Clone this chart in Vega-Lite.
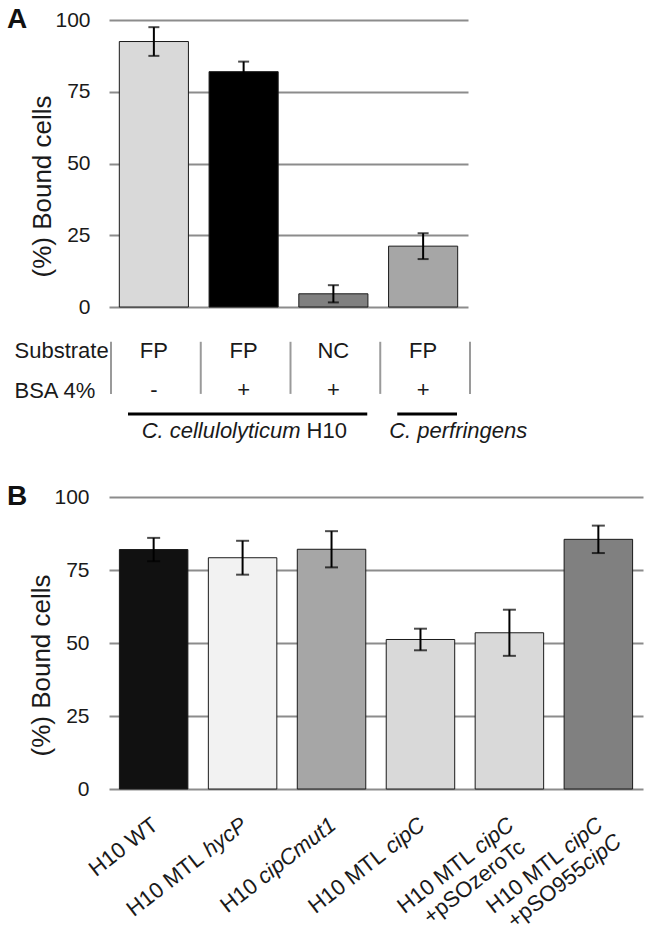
{
  "$schema": "https://vega.github.io/schema/vega-lite/v6.json",
  "background": "white",
  "padding": {"left": 7, "right": 2, "top": 6, "bottom": 0},
  "config": {
    "font": "Liberation Sans",
    "view": {"stroke": null},
    "axis": {"labelFont": "Liberation Sans", "titleFont": "Liberation Sans", "labelColor": "#1a1a1a", "titleColor": "#1a1a1a"},
    "title": {"font": "Liberation Sans"},
    "text": {"font": "Liberation Sans"}
  },
  "resolve": {"scale": {"color": "independent", "x": "independent"}},
  "spacing": 22,
  "datasets": {
    "panelA": [
      {"condition": "FP, BSA- (H10)", "value": 92.5, "err": 5.0},
      {"condition": "FP, BSA+ (H10)", "value": 82.0, "err": 3.5},
      {"condition": "NC, BSA+ (H10)", "value": 4.6, "err": 3.0},
      {"condition": "FP, BSA+ (C. perfringens)", "value": 21.2, "err": 4.5}
    ],
    "tableA": [
      {"condition": "FP, BSA- (H10)", "row": "Substrate", "label": "FP"},
      {"condition": "FP, BSA- (H10)", "row": "BSA 4%", "label": "-"},
      {"condition": "FP, BSA+ (H10)", "row": "Substrate", "label": "FP"},
      {"condition": "FP, BSA+ (H10)", "row": "BSA 4%", "label": "+"},
      {"condition": "NC, BSA+ (H10)", "row": "Substrate", "label": "NC"},
      {"condition": "NC, BSA+ (H10)", "row": "BSA 4%", "label": "+"},
      {"condition": "FP, BSA+ (C. perfringens)", "row": "Substrate", "label": "FP"},
      {"condition": "FP, BSA+ (C. perfringens)", "row": "BSA 4%", "label": "+"}
    ],
    "organisms": [
      {"species": "C. cellulolyticum", "strain": "H10", "first": "FP, BSA- (H10)", "last": "NC, BSA+ (H10)"},
      {"species": "C. perfringens", "strain": "", "first": "FP, BSA+ (C. perfringens)", "last": "FP, BSA+ (C. perfringens)"}
    ],
    "panelB": [
      {"strain": "H10 WT", "value": 82.0, "err": 4.0},
      {"strain": "H10 MTL hycP", "value": 79.2, "err": 5.8},
      {"strain": "H10 cipCmut1", "value": 82.1, "err": 6.2},
      {"strain": "H10 MTL cipC", "value": 51.2, "err": 3.7},
      {"strain": "H10 MTL cipC +pSOzeroTc", "value": 53.5, "err": 7.9},
      {"strain": "H10 MTL cipC +pSO955cipC", "value": 85.5, "err": 4.7}
    ],
    "labelsB": [
      {"strain": "H10 WT", "line": 1, "kind": "text", "text": "H10 WT"},
      {"strain": "H10 MTL hycP", "line": 1, "kind": "text", "text": "H10 MTL"},
      {"strain": "H10 MTL hycP", "line": 1, "kind": "gene", "text": "hycP"},
      {"strain": "H10 cipCmut1", "line": 1, "kind": "text", "text": "H10"},
      {"strain": "H10 cipCmut1", "line": 1, "kind": "gene", "text": "cipCmut1"},
      {"strain": "H10 MTL cipC", "line": 1, "kind": "text", "text": "H10 MTL"},
      {"strain": "H10 MTL cipC", "line": 1, "kind": "gene", "text": "cipC"},
      {"strain": "H10 MTL cipC +pSOzeroTc", "line": 1, "kind": "text", "text": "H10 MTL"},
      {"strain": "H10 MTL cipC +pSOzeroTc", "line": 1, "kind": "gene", "text": "cipC"},
      {"strain": "H10 MTL cipC +pSOzeroTc", "line": 2, "kind": "text", "text": "+pSOzeroTc"},
      {"strain": "H10 MTL cipC +pSO955cipC", "line": 1, "kind": "text", "text": "H10 MTL"},
      {"strain": "H10 MTL cipC +pSO955cipC", "line": 1, "kind": "gene", "text": "cipC"},
      {"strain": "H10 MTL cipC +pSO955cipC", "line": 2, "kind": "text", "text": "+pSO955"},
      {"strain": "H10 MTL cipC +pSO955cipC", "line": 2, "kind": "gene", "text": "cipC"}
    ]
  },
  "vconcat": [
    {
      "width": 359,
      "height": 287,
      "title": {"text": "A", "anchor": "start", "frame": "group", "dx": -102, "offset": -25, "fontSize": 28, "fontWeight": "bold", "color": "#111111"},
      "data": {"name": "panelA"},
      "encoding": {
        "x": {"field": "condition", "type": "nominal", "sort": null, "axis": null, "scale": {"paddingInner": 0.23, "paddingOuter": 0.115}},
        "y": {"field": "value", "type": "quantitative", "scale": {"domain": [0, 100]},
              "axis": {"values": [0, 25, 50, 75, 100], "grid": true, "gridColor": "#8c8c8c", "gridWidth": 2, "domain": false, "ticks": false, "labelFontSize": 21, "labelPadding": 19, "title": "(%) Bound cells", "titleFontSize": 26, "titleFontWeight": "normal", "titlePadding": -1, "titleY": 166}}
      },
      "layer": [
        {"mark": {"type": "bar", "stroke": "#1a1a1a", "strokeWidth": 1},
         "encoding": {"color": {"field": "condition", "type": "nominal", "legend": null,
           "scale": {"domain": ["FP, BSA- (H10)", "FP, BSA+ (H10)", "NC, BSA+ (H10)", "FP, BSA+ (C. perfringens)"], "range": ["#d9d9d9", "#000000", "#808080", "#a6a6a6"]}}}},
        {"mark": {"type": "errorbar", "ticks": {"size": 11, "thickness": 2}, "thickness": 2, "color": "#000000"},
         "encoding": {"yError": {"field": "err"}}}
      ]
    },
    {
      "width": 359,
      "height": 118.5,
      "layer": [
        {"data": {"name": "tableA"},
         "mark": {"type": "text", "fontSize": 22, "baseline": "alphabetic", "color": "#1a1a1a"},
         "encoding": {
           "x": {"field": "condition", "type": "nominal", "axis": null, "scale": {"domain": ["FP, BSA- (H10)", "FP, BSA+ (H10)", "NC, BSA+ (H10)", "FP, BSA+ (C. perfringens)"], "paddingInner": 0, "paddingOuter": 0}},
           "y": {"field": "row", "type": "nominal", "scale": {"type": "point", "domain": ["Substrate", "BSA 4%"], "padding": 1.16, "align": 0.2},
                 "axis": {"title": null, "domain": false, "ticks": false, "grid": false, "labelFontSize": 22, "labelAlign": "left", "labelBaseline": "alphabetic", "labelPadding": 95}},
           "text": {"field": "label"}}},
        {"data": {"name": "panelA"},
         "mark": {"type": "rule", "color": "#9a9a9a", "strokeWidth": 2, "xOffset": 2, "yOffset": -16, "y2Offset": -3.4},
         "encoding": {
           "x": {"field": "condition", "type": "nominal", "axis": null, "bandPosition": 0},
           "y": {"datum": "Substrate", "type": "nominal"},
           "y2": {"datum": "BSA 4%"}}},
        {"data": {"name": "organisms"},
         "transform": [{"filter": "datum.species === 'C. perfringens'"}],
         "mark": {"type": "rule", "color": "#9a9a9a", "strokeWidth": 2, "xOffset": 2, "yOffset": -16, "y2Offset": -3.4},
         "encoding": {
           "x": {"field": "last", "type": "nominal", "axis": null, "bandPosition": 1},
           "y": {"datum": "Substrate", "type": "nominal"},
           "y2": {"datum": "BSA 4%"}}},
        {"data": {"name": "organisms"},
         "mark": {"type": "rule", "color": "#000000", "strokeWidth": 3, "xOffset": 19, "x2Offset": -11, "yOffset": 16.6},
         "encoding": {
           "x": {"field": "first", "type": "nominal", "axis": null, "bandPosition": 0},
           "x2": {"field": "last", "bandPosition": 1},
           "y": {"datum": "BSA 4%", "type": "nominal"}}},
        {"data": {"name": "organisms"},
         "transform": [{"filter": "datum.species === 'C. cellulolyticum'"}],
         "mark": {"type": "text", "fontSize": 22, "fontStyle": "italic", "align": "right", "baseline": "alphabetic", "dx": -32.8, "dy": 40.6, "color": "#1a1a1a"},
         "encoding": {
           "x": {"field": "last", "type": "nominal", "axis": null},
           "y": {"datum": "BSA 4%", "type": "nominal"},
           "text": {"field": "species"}}},
        {"data": {"name": "organisms"},
         "transform": [{"filter": "datum.species === 'C. cellulolyticum'"}],
         "mark": {"type": "text", "fontSize": 22, "align": "right", "baseline": "alphabetic", "dx": 13.6, "dy": 40.6, "color": "#1a1a1a"},
         "encoding": {
           "x": {"field": "last", "type": "nominal", "axis": null},
           "y": {"datum": "BSA 4%", "type": "nominal"},
           "text": {"field": "strain"}}},
        {"data": {"name": "organisms"},
         "transform": [{"filter": "datum.species === 'C. perfringens'"}],
         "mark": {"type": "text", "fontSize": 22, "fontStyle": "italic", "align": "left", "baseline": "alphabetic", "dx": -34, "dy": 40.6, "color": "#1a1a1a"},
         "encoding": {
           "x": {"field": "first", "type": "nominal", "axis": null},
           "y": {"datum": "BSA 4%", "type": "nominal"},
           "text": {"field": "species"}}}
      ]
    },
    {
      "width": 534,
      "height": 292,
      "title": {"text": "B", "anchor": "start", "frame": "group", "dx": -102, "offset": -25, "fontSize": 28, "fontWeight": "bold", "color": "#111111"},
      "layer": [
        {"data": {"name": "panelB"},
         "mark": {"type": "bar", "stroke": "#1a1a1a", "strokeWidth": 1},
         "encoding": {
           "x": {"field": "strain", "type": "nominal", "axis": null, "scale": {"domain": ["H10 WT", "H10 MTL hycP", "H10 cipCmut1", "H10 MTL cipC", "H10 MTL cipC +pSOzeroTc", "H10 MTL cipC +pSO955cipC"], "paddingInner": 0.23, "paddingOuter": 0.117}},
           "y": {"field": "value", "type": "quantitative", "scale": {"domain": [0, 100]},
                 "axis": {"values": [0, 25, 50, 75, 100], "grid": true, "gridColor": "#8c8c8c", "gridWidth": 2, "domain": false, "ticks": false, "labelFontSize": 21, "labelPadding": 20, "title": "(%) Bound cells", "titleFontSize": 26, "titleFontWeight": "normal", "titlePadding": -1, "titleY": 168}},
           "color": {"field": "strain", "type": "nominal", "legend": null,
             "scale": {"domain": ["H10 WT", "H10 MTL hycP", "H10 cipCmut1", "H10 MTL cipC", "H10 MTL cipC +pSOzeroTc", "H10 MTL cipC +pSO955cipC"], "range": ["#111111", "#f2f2f2", "#a6a6a6", "#d9d9d9", "#d9d9d9", "#808080"]}}}},
        {"data": {"name": "panelB"},
         "mark": {"type": "errorbar", "ticks": {"size": 13, "thickness": 2}, "thickness": 2, "color": "#000000"},
         "encoding": {
           "x": {"field": "strain", "type": "nominal", "axis": null},
           "y": {"field": "value", "type": "quantitative", "title": "(%) Bound cells"},
           "yError": {"field": "err"}}},
        {"data": {"name": "labelsB"},
         "transform": [{"filter": "datum.line === 1 && datum.kind === 'gene'"}],
         "mark": {"type": "text", "fontSize": 22, "fontStyle": "italic", "angle": -38, "align": "right", "baseline": "alphabetic", "dx": -19.2, "dy": 34.1, "color": "#1a1a1a"},
         "encoding": {"x": {"field": "strain", "type": "nominal", "axis": null}, "y": {"datum": 0, "type": "quantitative"}, "text": {"field": "text"}}},
        {"data": {"name": "labelsB"},
         "transform": [{"filter": "datum.line === 1 && datum.kind === 'text' && datum.strain === 'H10 WT'"}],
         "mark": {"type": "text", "fontSize": 22, "angle": -38, "align": "right", "baseline": "alphabetic", "dx": -19.2, "dy": 34.1, "color": "#1a1a1a"},
         "encoding": {"x": {"field": "strain", "type": "nominal", "axis": null}, "y": {"datum": 0, "type": "quantitative"}, "text": {"field": "text"}}},
        {"data": {"name": "labelsB"},
         "transform": [{"filter": "datum.line === 1 && datum.kind === 'text' && datum.strain === 'H10 MTL hycP'"}],
         "mark": {"type": "text", "fontSize": 22, "angle": -38, "align": "right", "baseline": "alphabetic", "dx": -74.2, "dy": 34.1, "color": "#1a1a1a"},
         "encoding": {"x": {"field": "strain", "type": "nominal", "axis": null}, "y": {"datum": 0, "type": "quantitative"}, "text": {"field": "text"}}},
        {"data": {"name": "labelsB"},
         "transform": [{"filter": "datum.line === 1 && datum.kind === 'text' && datum.strain === 'H10 cipCmut1'"}],
         "mark": {"type": "text", "fontSize": 22, "angle": -38, "align": "right", "baseline": "alphabetic", "dx": -118.2, "dy": 34.1, "color": "#1a1a1a"},
         "encoding": {"x": {"field": "strain", "type": "nominal", "axis": null}, "y": {"datum": 0, "type": "quantitative"}, "text": {"field": "text"}}},
        {"data": {"name": "labelsB"},
         "transform": [{"filter": "datum.line === 1 && datum.kind === 'text' && indexof(datum.strain, 'MTL cipC') >= 0"}],
         "mark": {"type": "text", "fontSize": 22, "angle": -38, "align": "right", "baseline": "alphabetic", "dx": -69.3, "dy": 34.1, "color": "#1a1a1a"},
         "encoding": {"x": {"field": "strain", "type": "nominal", "axis": null}, "y": {"datum": 0, "type": "quantitative"}, "text": {"field": "text"}}},
        {"data": {"name": "labelsB"},
         "transform": [{"filter": "datum.line === 2 && datum.strain === 'H10 MTL cipC +pSOzeroTc'"}],
         "mark": {"type": "text", "fontSize": 22, "angle": -38, "align": "right", "baseline": "alphabetic", "dx": -24.2, "dy": 58.6, "color": "#1a1a1a"},
         "encoding": {"x": {"field": "strain", "type": "nominal", "axis": null}, "y": {"datum": 0, "type": "quantitative"}, "text": {"field": "text"}}},
        {"data": {"name": "labelsB"},
         "transform": [{"filter": "datum.line === 2 && datum.kind === 'gene'"}],
         "mark": {"type": "text", "fontSize": 22, "fontStyle": "italic", "angle": -38, "align": "right", "baseline": "alphabetic", "dx": -14.7, "dy": 58.6, "color": "#1a1a1a"},
         "encoding": {"x": {"field": "strain", "type": "nominal", "axis": null}, "y": {"datum": 0, "type": "quantitative"}, "text": {"field": "text"}}},
        {"data": {"name": "labelsB"},
         "transform": [{"filter": "datum.line === 2 && datum.kind === 'text' && datum.strain === 'H10 MTL cipC +pSO955cipC'"}],
         "mark": {"type": "text", "fontSize": 22, "angle": -38, "align": "right", "baseline": "alphabetic", "dx": -58.7, "dy": 58.6, "color": "#1a1a1a"},
         "encoding": {"x": {"field": "strain", "type": "nominal", "axis": null}, "y": {"datum": 0, "type": "quantitative"}, "text": {"field": "text"}}}
      ]
    }
  ]
}
